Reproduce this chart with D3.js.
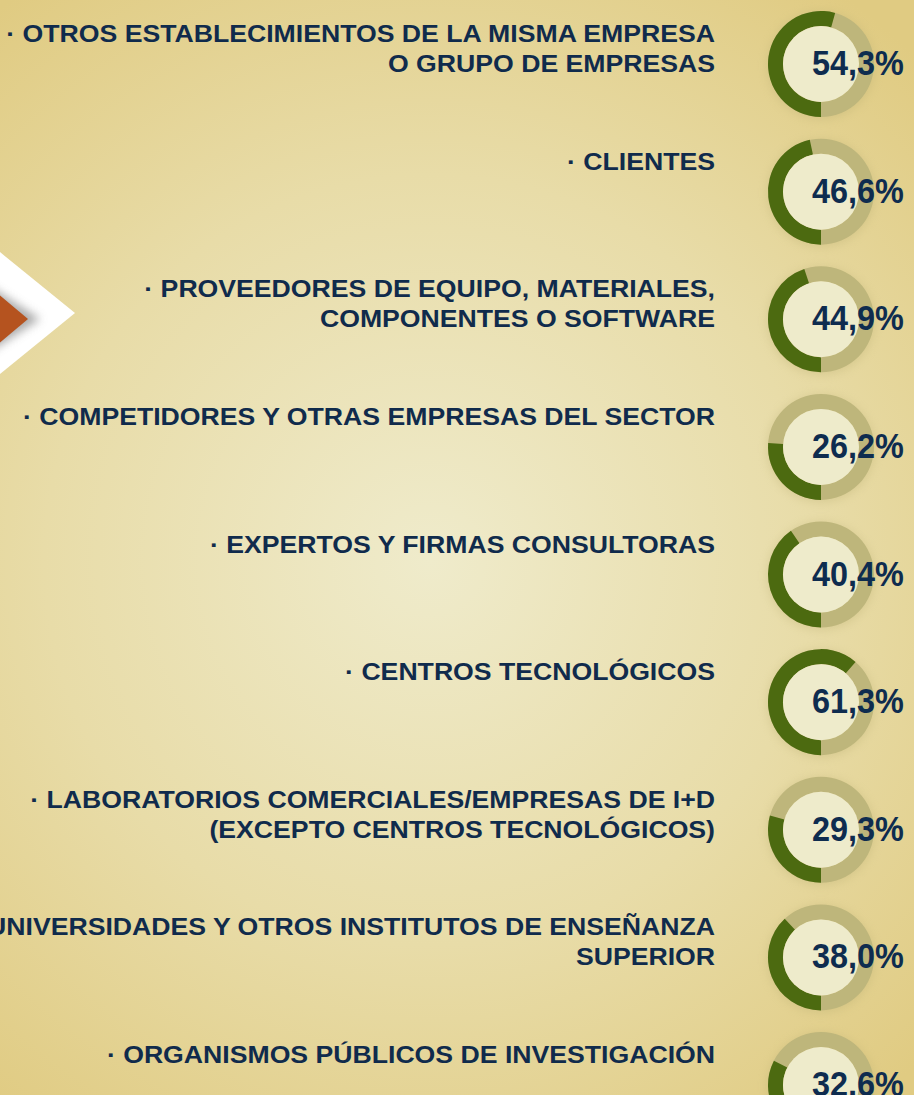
<!DOCTYPE html>
<html>
<head>
<meta charset="utf-8">
<script src="https://cdn.jsdelivr.net/npm/d3@7"></script>
<style>
  html, body { margin: 0; padding: 0; overflow: hidden; }
  svg { display: block; }
</style>
</head>
<body>
<svg id="chart" width="914" height="1095"></svg>
<script>
// Sources of information for innovation (% of companies)
const labelLines = [
  ["· OTROS ESTABLECIMIENTOS DE LA MISMA EMPRESA", "O GRUPO DE EMPRESAS"],
  ["· CLIENTES"],
  ["· PROVEEDORES DE EQUIPO, MATERIALES,", "COMPONENTES O SOFTWARE"],
  ["· COMPETIDORES Y OTRAS EMPRESAS DEL SECTOR"],
  ["· EXPERTOS Y FIRMAS CONSULTORAS"],
  ["· CENTROS TECNOLÓGICOS"],
  ["· LABORATORIOS COMERCIALES/EMPRESAS DE I+D", "(EXCEPTO CENTROS TECNOLÓGICOS)"],
  ["· UNIVERSIDADES Y OTROS INSTITUTOS DE ENSEÑANZA", "SUPERIOR"],
  ["· ORGANISMOS PÚBLICOS DE INVESTIGACIÓN"]
];
const values = [54.3, 46.6, 44.9, 26.2, 40.4, 61.3, 29.3, 38.0, 32.6];

const W = 914, H = 1095;
const svg = d3.select("#chart");
const defs = svg.append("defs");

// background: warm cream radial glow
const bg = defs.append("radialGradient").attr("id", "bg")
  .attr("gradientUnits", "userSpaceOnUse")
  .attr("cx", 430).attr("cy", 560).attr("r", 700);
bg.append("stop").attr("offset", "0").attr("stop-color", "#EFEBCB");
bg.append("stop").attr("offset", "0.55").attr("stop-color", "#E8DCA8");
bg.append("stop").attr("offset", "1").attr("stop-color", "#E0CB82");
svg.append("rect").attr("width", W).attr("height", H).attr("fill", "url(#bg)");

// pointer on the left edge
defs.append("filter").attr("id", "soft")
  .attr("x", "-50%").attr("y", "-50%").attr("width", "200%").attr("height", "200%")
  .append("feGaussianBlur").attr("stdDeviation", 5);
const arrow = svg.append("g");
arrow.append("path").attr("d", "M-10,244 L75,313 L-10,382 Z").attr("fill", "#FFFFFF");
arrow.append("path").attr("d", "M-20,280 L40,319 L-20,358 Z")
  .attr("fill", "#8F8F8F").attr("opacity", 0.75).attr("filter", "url(#soft)");
arrow.append("path").attr("d", "M-10,287 L28,319 L-10,351 Z").attr("fill", "#B5531F");

// layout scales
const y = d3.scalePoint().domain(d3.range(values.length)).range([64, 1085]);
const pct = d3.scaleLinear().domain([0, 100]).range([0, 2 * Math.PI]);
const fmt = d3.formatLocale({ decimal: ",", thousands: ".", grouping: [3], currency: ["", "€"] }).format(".1f");

const cx = 821, rOuter = 53, rInner = 38;
const ring = d3.arc().innerRadius(rInner).outerRadius(rOuter);

const rows = svg.selectAll("g.row").data(values).join("g")
  .attr("class", "row")
  .attr("transform", (d, i) => `translate(0,${y(i)})`);

// category labels, right aligned
const labelX = 715, labelSX = 1.11;
rows.append("g")
  .attr("transform", `scale(${labelSX},1)`)
  .each(function (d, i) {
    const t = d3.select(this).append("text")
      .attr("text-anchor", "end")
      .attr("font-family", "'Liberation Sans', Arial, sans-serif")
      .attr("font-weight", "bold")
      .attr("font-size", 24)
      .attr("fill", "#102B4C");
    labelLines[i].forEach((line, k) => {
      t.append("tspan")
        .attr("x", labelX / labelSX)
        .attr("y", -22 + k * 30)
        .text(line);
    });
  });

// donuts
const donut = rows.append("g").attr("transform", `translate(${cx},0)`);
donut.append("circle").attr("r", rOuter + 1).attr("fill", "#B9AE72").attr("opacity", 0.35)
  .attr("cy", 1.5).attr("filter", "url(#soft)");
donut.append("path").attr("d", ring({ startAngle: 0, endAngle: 2 * Math.PI })).attr("fill", "#BEB67B");
donut.append("path")
  .attr("d", d => ring({ startAngle: Math.PI, endAngle: Math.PI + pct(d) }))
  .attr("fill", "#4C6A10");
donut.append("circle").attr("r", rInner).attr("fill", "#EEEBCB");

// value labels
const valSX = 0.9;
rows.append("text")
  .attr("transform", `translate(${cx - 9},11) scale(${valSX},1)`)
  .attr("font-family", "'Liberation Sans', Arial, sans-serif")
  .attr("font-weight", "bold")
  .attr("font-size", 36)
  .attr("fill", "#0E2C4F")
  .text(d => fmt(d) + "%");
</script>
</body>
</html>
